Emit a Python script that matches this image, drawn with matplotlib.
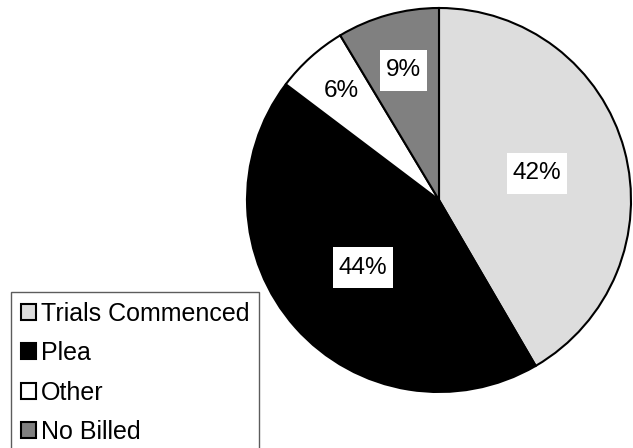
import numpy as np
import matplotlib

matplotlib.use("Agg")
import matplotlib.pyplot as plt
from matplotlib.path import Path

plt.rcParams["font.family"] = ["Liberation Sans", "DejaVu Sans"]

# data (percent shares)
categories = ["Trials Commenced", "Plea", "Other", "No Billed"]
shares = [41.6, 43.7, 6.1, 8.6]
colors = ["#dddddd", "#000000", "#ffffff", "#808080"]
label_dist = [0.53, 0.53, 0.76, 0.70]


def label_box(x0, y0, width, height, mutation_size):
    """white box, wider vertical padding than horizontal"""
    px = 0.24 * mutation_size
    py = 0.40 * mutation_size
    x0, y0 = x0 - px, y0 - py
    x1, y1 = x0 + width + 2 * px, y0 + height + 2 * py
    return Path([(x0, y0), (x1, y0), (x1, y1), (x0, y1), (x0, y0)], closed=True)


W, H = 633, 448
fig = plt.figure(figsize=(W / 100, H / 100), dpi=100)

cx, cy, r = 439, 200, 192
ax = fig.add_axes([(cx - r) / W, (H - cy - r) / H, 2 * r / W, 2 * r / H])

wedges, _, autotexts = ax.pie(
    shares,
    colors=colors,
    startangle=90,
    counterclock=False,
    autopct="%.0f%%",
    radius=1,
    wedgeprops=dict(edgecolor="black", linewidth=1.5),
    textprops=dict(fontsize=17.5, color="black"),
)
for w, t, d, c in zip(wedges, autotexts, label_dist, colors):
    mid = np.deg2rad((w.theta1 + w.theta2) / 2)
    t.set_position((d * np.cos(mid), d * np.sin(mid)))
    if c != "#ffffff":
        t.set_bbox(dict(boxstyle=label_box, facecolor="white", edgecolor="none"))

ax.set_xlim(-1, 1)
ax.set_ylim(-1, 1)
ax.set_aspect("equal")
ax.axis("off")

leg = fig.legend(
    wedges,
    categories,
    loc="upper left",
    bbox_to_anchor=(11 / W, 1 - 292 / H),
    fontsize=18,
    frameon=True,
    fancybox=False,
    edgecolor="#333333",
    handlelength=0.6,
    handleheight=0.6,
    handletextpad=0.22,
    labelspacing=0.62,
    borderpad=0.38,
    borderaxespad=0,
)
leg.get_frame().set_linewidth(1.0)
for h in leg.legend_handles:
    h.set_linewidth(1.5)

fig.savefig("out.png", dpi=100)
